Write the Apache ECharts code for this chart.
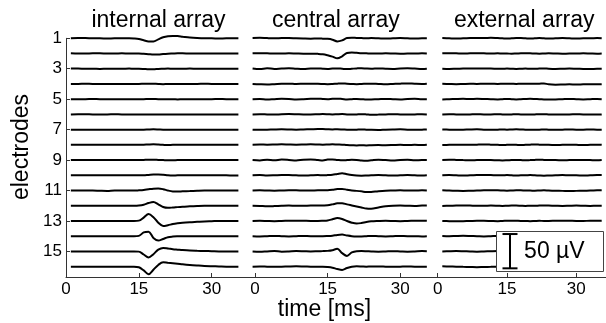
<!DOCTYPE html>
<html><head><meta charset="utf-8">
<script src="https://cdn.jsdelivr.net/npm/echarts@6/dist/echarts.min.js"></script>
<style>html,body{margin:0;padding:0;background:#fff}#c{width:606px;height:323px}</style>
</head><body><div id="c"></div>
<script>
// ---------------- DATA ----------------
const panelTitles = ['internal array', 'central array', 'external array'];
const xAxisName = 'time [ms]';
const yAxisName = 'electrodes';
const electrodes = [1, 2, 3, 4, 5, 6, 7, 8, 9, 10, 11, 12, 13, 14, 15, 16];
const electrodeTickLabels = [1, 3, 5, 7, 9, 11, 13, 15];
const timeTicks = [0, 15, 30];
const scaleBarUV = 50;
const scaleBarLabel = '50 µV';
const uvPerRow = 22.2; // µV between neighbouring electrode baselines
// sample times (ms)
const times = [-0.5, 1, 2.5, 4, 5.5, 7, 8.5, 10, 11.5, 13, 14, 15, 16, 17, 18, 19, 20, 21, 22, 23, 24, 25.5, 27, 28.5, 30, 31.5, 33, 34.5, 35.5];
const panelStartTime = [0, -0.5, 0];

// voltages (µV), one row per electrode 1..16
const internalArray = [
  [0, 0, 0.3, 0.3, 0, 0, -0.3, 0, 0, 0, -0.3, -1, -2.8, -4.5, -4.6, -1.5, 1.5, 3, 3.4, 3.2, 2.3, 1, 0.3, 0, 0, -0.3, 0, 0, 0],
  [0.3, 0.3, 0, 0, 0.3, 0.3, 0, 0, 0.3, 0, 0, 0, -0.5, -1, -1.5, -1.5, -0.8, -0.3, 0, 0.3, 0.3, 0, 0, 0, 0, 0, 0, 0, 0],
  [0, 0.3, 0.3, 0, 0, -0.3, 0, 0, 0, 0.3, 0, 0, -0.3, -0.8, -0.8, -0.3, 0, 0.3, 0, 0, 0, 0.3, 0, 0, 0, 0, 0, 0, 0],
  [0, 0, 0, 0.3, 0, 0, 0, 0, 0, 0, 0, 0, 0.3, 0.5, 0.3, 0, -0.3, 0, 0, 0, 0, 0, 0, 0.3, 0, 0, 0, 0, 0],
  [0, 0, 0, 0, 0.3, 0, 0, 0, 0, 0, 0, 0, 0, 0.3, 0.3, 0, 0, 0, 0, -0.3, 0, 0, 0, 0, 0, 0.3, 0, 0, 0],
  [0, 0, 0.3, 0.3, 0, 0, 0, 0.3, 0, 0, 0, 0, 0, 0, 0, -0.3, -0.3, 0, 0, 0, 0, 0, 0, 0, 0, 0, 0, 0, 0],
  [0, 0, 0, 0, 0, 0, 0, 0, 0, 0, 0, 0, 0, 0.3, 0.5, 0.3, 0, 0, 0, -0.3, 0, 0, 0, 0, 0, 0, 0, 0, 0],
  [0, 0, 0, 0, 0, 0, 0, 0, 0, 0.3, 0, 0, 0.3, 0.6, 0.8, 0.5, 0, -0.3, 0, 0, 0, 0, 0, 0, 0, 0, 0, 0, 0],
  [0, 0, 0.3, 0.3, 0, 0, 0, 0, 0, 0, 0, 0, 0.3, 0.6, 0.6, 0.3, 0, -0.3, -0.3, 0, 0, 0, 0, 0, 0, 0, 0, 0, 0],
  [0, 0, 0, 0, 0, 0, 0, 0, 0, 0, 0, 0, 0, 0.5, 1, 1.2, 0.8, 0, -0.3, 0, 0, 0, 0, 0, 0, 0, 0, -0.3, -0.3],
  [0, 0, 0, 0, 0, -0.3, -0.5, 0, 0, 0, 0, 0.3, 0.8, 1.8, 2.7, 3, 2, 0, -1.3, -1.5, -1.2, -0.8, -0.3, 0, 0, 0, 0, 0, 0],
  [0, 0, 0, 0, 0, 0, 0, 0, 0, 0, 0, 0.3, 1.5, 4, 5.4, 2, -1.8, -3, -2.6, -2, -1.5, -0.8, -0.3, 0, 0, 0, 0, 0, 0],
  [0, 0, 0, 0, 0, 0, 0, 0, 0, 0, 0, 0.5, 5, 10, 5.5, -2.5, -7.3, -6.2, -4.5, -3.4, -2.6, -1.8, -1.2, -0.6, -0.3, 0, 0, 0, 0],
  [0, 0, 0, 0, 0, 0, 0, 0, 0, 0, 0, 0.5, 5.5, 6.5, -2.5, -6.3, -4, -1.5, -0.6, -0.2, 0, 0, 0, 0, 0, 0, 0, 0, 0],
  [0, 0, 0, 0, 0, 0, 0, 0, 0, 0, 0, -0.3, -4.5, -8.8, -4, 2.5, 5, 4.2, 3.2, 2.6, 2, 1.3, 0.9, 0.6, 0.3, 0, 0, 0, 0],
  [0, 0, 0, 0, 0, 0, 0, 0, 0, 0, 0, -0.8, -5.5, -11, -4.4, 2.5, 6.3, 5.6, 5, 4.3, 3.5, 2.5, 1.7, 1, 0.6, 0.3, 0, 0, 0]
];
const centralArray = [
  [0.5, 0.8, 0.3, 0, 0.3, 0.5, 0, -0.3, -0.5, -0.3, -0.5, -0.8, -2, -4.5, -3, 0.3, 0.8, 0.5, 0.3, 0, 0.3, 0, -0.3, 0, 0.3, 0, -0.3, 0, 0],
  [0.3, 0.5, 0.3, 0, 0, 0.3, 0, -0.3, -0.3, -0.5, -1, -2.5, -4.5, -7, -4, 0.8, 1.5, 1, 0.5, 0.3, 0, 0, 0.3, 0, -0.3, 0, 0, 0.3, 0],
  [0.5, -0.5, 0.8, -0.3, 0.3, 0.8, 0, -0.5, 0.3, 0.5, 0, -0.3, 0.3, 0.5, 0, -0.5, 0, 0.5, 0.8, 0.3, 0, 0.5, 0, -0.3, 0.5, 0.8, 0.3, -0.3, 0],
  [0, -0.5, -0.8, -0.3, 0.3, 0.5, 0, 0.3, 0.5, 0.3, 0, -0.3, 0, 0.5, 0.8, 0.3, 0, -0.3, 0, 0.3, 0.5, 0, -0.5, 0, 0.5, 0.8, 0.3, 0, 0.3],
  [0, 0.3, -0.5, 0, 0.5, 0.3, -0.3, 0, 0.5, 0.8, 0.3, 0, 0.5, 0.8, 0.3, -0.3, 0, 0.3, 0, -0.5, -0.3, 0, 0.3, 0, -0.3, 0.3, 0.5, 0, 0],
  [0, 0.3, 0, -0.3, 0.3, 0.5, 0.3, 0, 0, 0.3, 0.5, 0.3, 0, 0.3, 0.5, 0, -0.3, 0, 0.3, 0, -0.5, -0.3, 0, 0.3, 0, -0.3, 0, 0.3, 0],
  [0, -0.3, 0, 0.3, 0.5, 0.3, 0, 0.3, 0.5, 0.8, 0.8, 0.5, 0.3, 0.5, 0.3, 0, -0.3, 0, 0.3, 0, -0.3, -0.5, 0, 0.3, 0.5, 0, -0.3, 0, 0.3],
  [0.3, 0.5, 0.3, 0.5, 0.8, 0.5, 0.3, 0.5, 0.8, 0.5, 0.3, 0.5, 0.8, 0.5, 0.3, -0.3, -0.5, -0.8, -0.5, -0.8, -0.5, -0.3, -0.5, -0.3, 0, -0.3, 0, -0.3, 0],
  [0, -0.5, 0.5, -0.3, 0.8, 0.3, -0.5, 0.5, 0.8, 0, -0.5, 0.8, 1, 0.3, -0.3, 0, 0.5, 0.3, -0.5, -0.8, -0.3, 0.5, 0, -0.5, 0.3, 0.5, -0.3, 0, 0],
  [0, 0.3, -0.3, 0, 0.5, 0.3, 0, -0.3, 0, 0.3, 0, 0.3, 0.8, 2, 3, 1.5, 0.3, -0.3, -0.5, -0.3, 0, 0.3, 0, -0.3, 0, 0.3, 0, -0.3, 0],
  [0, 0.3, 0, -0.3, 0, 0.3, 0.3, 0, 0, 0.3, 0.3, 0.5, 1.2, 2.2, 2.4, 1.2, 0, -0.5, -1.2, -2.2, -2, -1, -0.3, 0, 0.3, 0, 0, 0.3, 0],
  [0, -0.3, -0.8, -0.5, 0, 0.3, 0, 0, 0.3, 0.3, 0.5, 0.8, 2, 3.5, 3.8, 2, 0.5, -1, -2.5, -4, -4.3, -2.5, -0.8, 0, 0.3, 0, -0.3, 0.3, 0.5],
  [0, 0.3, 0, -0.3, 0, 0.3, 0.5, 0.3, 0, 0, 0.3, 0.8, 2.5, 4.4, 3, 0, -2.5, -3.8, -3, -1.5, -0.5, 0, 0.3, 0, -0.3, 0, 0.3, 0.5, 0.3],
  [0, -0.3, 0, 0.3, 0, -0.3, 0, 0.3, 0, 0, 0, 0.3, 0.8, 1.8, 2.3, 1, 0, -0.3, -0.3, 0, 0.3, 0, -0.3, 0, 0.3, 0, 0, -0.3, 0],
  [0, -0.5, 0, 0.5, -0.3, 0, 0.5, 0.3, 0, 0.3, 0.5, 0.8, 1.8, 3.8, -2.5, -6.5, -1.5, 0.3, 0.5, 0.3, 0, -0.3, 0, 0.3, 0, -0.3, 0, 0.5, 0.3],
  [0, 0.3, 0, -0.3, 0, 0.3, 0.5, 0.3, 0, -0.3, 0, -0.5, -1.5, -3.5, -4.8, -2, 0, 0.5, 0.3, 0, 0.3, 0.3, 0, -0.3, 0, 0.3, 0, 0, 0]
];
const externalArray = [
  [0, 0.3, 0, -0.3, 0, 0.3, 0.5, 0.3, 0.8, 0.3, 0, -0.3, 0, 0.3, 0.3, 0, -0.3, 0, 0.3, 0, -0.3, 0, 0.3, 0, -0.3, 0, 0, 0.3, 0],
  [0, 0.3, 0.5, 0.3, 0, 0.3, 0.5, 0.3, 0, 0.3, 0, 0, -0.3, 0, 0.3, 0.5, 0.3, 0, -0.3, 0, 0.3, 0, -0.3, 0, 0, 0.3, 0, -0.3, 0],
  [0, 0, -0.3, 0, 0.3, 0.5, 0.5, 0.3, 0.3, 0, 0, 0.3, 0, -0.3, 0, 0.3, 0, 0, 0.3, 0.5, 0, -0.3, 0, 0.3, 0, -0.3, -0.5, 0, 0],
  [0, 0.3, 0, -0.3, 0, 0.3, 0, 0.3, 0.3, 0, 0.3, 0.5, 0.3, 0, 0.3, 0.3, 0.5, 0.3, 0.5, 0.8, -0.5, -1, -0.8, -0.5, -0.8, -0.5, -0.3, -0.5, -0.3],
  [0, -0.3, 0, 0.3, 0.5, 0.3, 0.5, 0.3, 0, -0.3, 0, 0.3, 0, -0.3, 0, 0.3, 0.5, 0.3, 0, -0.3, -0.5, -0.3, 0, 0.3, 0, -0.3, 0, 0.3, 0],
  [0, 0, 0.3, 0, -0.3, 0, 0.3, 0, 0, 0.3, 0, -0.3, 0, 0.3, 0, 0, -0.3, 0, 0.3, 0.3, 0, -0.3, 0, 0, 0.3, 0, 0, -0.3, 0],
  [0, 0.3, 0, -0.3, 0, 0.3, 0.5, 0, -0.3, 0, 0.3, 0, 0.3, 0.5, 0.3, 0, -0.3, 0, 0, 0.3, 0, -0.3, 0, 0.3, 0, 0, 0.3, 0, 0],
  [0, -0.3, 0, 0.3, 0, 0, 0.3, 0.5, 0.3, 0, -0.3, 0, 0.3, 0, -0.3, 0, 0.3, 0.5, 0.3, 0, 0, -0.3, 0, 0.3, 0, -0.3, 0, 0.3, 0],
  [0, 0.3, 0.5, 0.3, 0, -0.3, 0, 0.3, 0, -0.3, -0.5, -0.3, 0, 0.3, 0, -0.3, 0, 0.3, 0.5, 0.3, 0, 0, -0.3, 0, 0.3, 0.3, 0, -0.3, 0],
  [0, 0, 0.3, 0, -0.3, 0, 0.3, 0.5, 0.3, 0, 0, 0.3, 0, -0.3, 0, 0, 0.3, 0, -0.3, -0.5, -0.3, 0, 0.3, 0, 0, -0.3, 0, 0.3, 0.3],
  [0, 0.3, 0, -0.3, -0.5, -0.3, 0, 0.3, 0.5, 0.3, 0, -0.3, 0, 0.3, 0.3, 0, 0, -0.3, 0, 0.3, 0, -0.3, -0.5, -0.8, -0.5, -0.3, 0, 0.3, 0.5],
  [0, -0.3, 0, 0.3, 0.5, 0.3, 0, 0, 0.3, 0, -0.3, 0, 0.3, 0.3, 0, -0.3, 0, 0, 0.3, 0.5, 0.3, 0, -0.3, 0, 0.3, 0, -0.3, 0, 0],
  [0, 0, -0.3, -0.5, -0.3, 0, 0.3, 0.3, 0, -0.3, 0, 0.3, 0.5, 0.3, 0, 0, -0.3, 0, 0.3, 0, 0, 0.3, 0.5, 0.3, 0, 0, 0.3, 0.3, 0.5],
  [0, 0.3, 0, 0.3, 0.5, 0.3, 0, -0.3, 0, 0.3, 0.3, 0, 0, 0.3, 0, -0.3, 0, 0, 0.3, 0, 0, 0, 0, 0, 0, 0, 0, 0, 0],
  [0, 0, 0.3, 0.5, 0.3, 0, -0.3, 0, 0.3, 0.5, 0.3, 0, 0, 0.3, 0, 0, 0, 0, 0, 0, 0, 0, 0, 0, 0, 0, 0, 0, 0],
  [0.3, 0.5, 0.3, 0, -0.3, -0.5, -0.8, -0.5, -0.3, 0, 0.3, 0.3, 0, 0, 0, 0, 0, 0, 0, 0, 0, 0, 0, 0, 0, 0, 0, 0, 0]
];
const panels = [internalArray, centralArray, externalArray];

// ---------------- LAYOUT ----------------
const FONT = '"Liberation Sans", Arial, Helvetica, sans-serif';
const gridTop = 38.3, gridBottomPx = 277, H = 323;
const grids = [
  { left: 66, width: 186, xmin: 0, xmax: 38.3 },
  { left: 252, width: 185, xmin: -0.62, xmax: 37.6 },
  { left: 437, width: 169, xmin: -0.15, xmax: 36.43 }
];
const yMin = 1, yMax = 16.68;
const titleX = [158.5, 335.8, 524.2];
// scale bar box placement in panel-3 data coordinates
const box = { t0: 12.6, t1: 35.8, e0: 13.64, e1: 16.29, barT: 15.65, barBottom: 16.11, textT: 18.7 };

const chart = echarts.init(document.getElementById('c'), null, { renderer: 'canvas' });

const gridOpt = grids.map(g => ({ left: g.left, width: g.width, top: gridTop, bottom: H - gridBottomPx, containLabel: false }));
const xAxes = grids.map((g, i) => ({
  type: 'value', gridIndex: i, min: g.xmin, max: g.xmax,
  axisLine: { show: true, onZero: false, lineStyle: { color: '#333', width: 1 } },
  axisTick: { show: true, inside: true, length: 4, customValues: timeTicks, lineStyle: { color: '#333' } },
  axisLabel: { show: true, customValues: timeTicks, fontSize: 17, color: '#000', fontFamily: FONT, margin: 4 },
  splitLine: { show: false }
}));
const yAxes = grids.map((g, i) => ({
  type: 'value', gridIndex: i, min: yMin, max: yMax, inverse: true, show: i === 0,
  axisLine: { show: true, onZero: false, lineStyle: { color: '#333', width: 1 } },
  axisTick: { show: true, inside: true, length: 4, customValues: electrodeTickLabels, lineStyle: { color: '#333' } },
  axisLabel: { show: true, customValues: electrodeTickLabels, fontSize: 17, color: '#000', fontFamily: FONT, margin: 4 },
  splitLine: { show: false }
}));

const series = [];
panels.forEach((panel, p) => {
  panel.forEach((vals, k) => {
    const e = electrodes[k];
    const data = [];
    times.forEach((t, i) => {
      if (t >= panelStartTime[p]) data.push([t, e - vals[i] / uvPerRow]);
    });
    series.push({
      type: 'line', xAxisIndex: p, yAxisIndex: p, data,
      showSymbol: false, symbol: 'none', smooth: 0.35, clip: false, silent: true,
      lineStyle: { color: '#000', width: 2 }, z: 2, animation: false
    });
  });
});

series.push({
  type: 'custom', xAxisIndex: 2, yAxisIndex: 2, data: [[0]], clip: false, silent: true, z: 10, animation: false,
  renderItem: function (params, api) {
    const a = api.coord([box.t0, box.e0]);
    const b = api.coord([box.t1, box.e1]);
    const bot = api.coord([box.barT, box.barBottom]);
    const top = api.coord([box.barT, box.barBottom - scaleBarUV / uvPerRow]);
    const capW = 7.5;
    const mid = (top[1] + bot[1]) / 2;
    const tx = api.coord([box.textT, box.barBottom])[0];
    return {
      type: 'group', children: [
        { type: 'rect', shape: { x: Math.round(a[0]) + 0.5, y: Math.round(a[1]) + 0.5, width: Math.round(b[0] - a[0]), height: Math.round(b[1] - a[1]) },
          style: { fill: '#fff', stroke: '#444', lineWidth: 1 } },
        { type: 'line', shape: { x1: top[0], y1: top[1], x2: bot[0], y2: bot[1] }, style: { stroke: '#000', lineWidth: 2 } },
        { type: 'line', shape: { x1: top[0] - capW, y1: top[1], x2: top[0] + capW, y2: top[1] }, style: { stroke: '#000', lineWidth: 2 } },
        { type: 'line', shape: { x1: bot[0] - capW, y1: bot[1], x2: bot[0] + capW, y2: bot[1] }, style: { stroke: '#000', lineWidth: 2 } },
        { type: 'text', style: { text: scaleBarLabel, x: tx, y: mid, fill: '#000', font: '23px ' + FONT, align: 'left', verticalAlign: 'middle', textAlign: 'left', textVerticalAlign: 'middle' } }
      ]
    };
  }
});

const graphics = panelTitles.map((t, i) => ({
  type: 'text', x: titleX[i], y: 20.5, silent: true,
  style: { text: t, fill: '#000', font: '23px ' + FONT, align: 'center', verticalAlign: 'middle', textAlign: 'center', textVerticalAlign: 'middle' }
}));
graphics.push({
  type: 'text', x: 324.5, y: 310, silent: true,
  style: { text: xAxisName, fill: '#000', font: '23px ' + FONT, align: 'center', verticalAlign: 'middle', textAlign: 'center', textVerticalAlign: 'middle' }
});
graphics.push({
  type: 'text', x: 22, y: 147, rotation: Math.PI / 2, silent: true,
  style: { text: yAxisName, fill: '#000', font: '23px ' + FONT, align: 'center', verticalAlign: 'middle', textAlign: 'center', textVerticalAlign: 'middle' }
});

chart.setOption({
  animation: false,
  backgroundColor: '#fff',
  grid: gridOpt,
  xAxis: xAxes,
  yAxis: yAxes,
  series,
  graphic: graphics
});
</script>
</body></html>
